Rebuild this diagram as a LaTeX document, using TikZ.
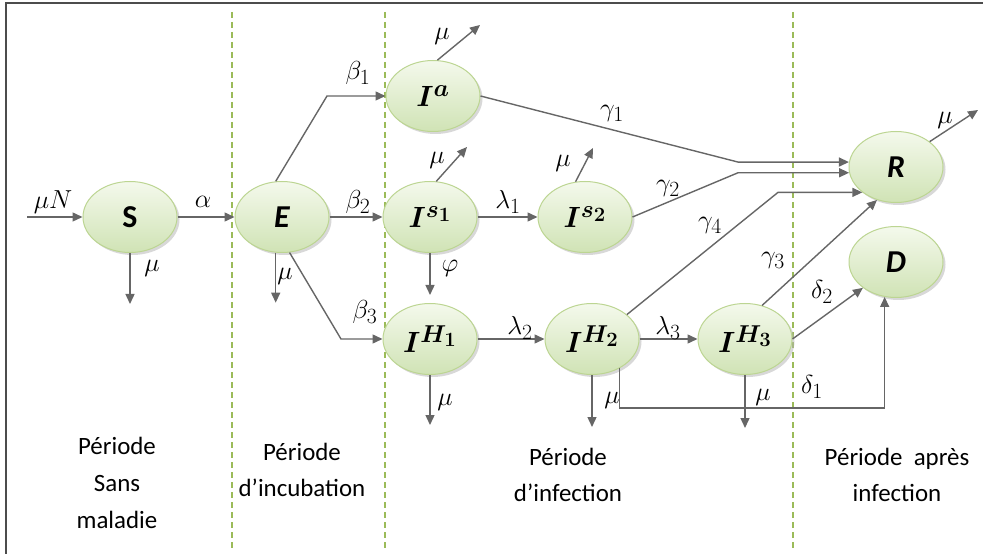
\documentclass[tikz,border=0pt]{standalone}
\usepackage{amsmath}
\usepackage{graphicx}
\usepackage{fontspec}
\setmainfont{Carlito}
\usetikzlibrary{arrows.meta,shadows,shapes.geometric,calc}
\definecolor{arr}{HTML}{666666}
\definecolor{grn}{HTML}{9BBB59}
\definecolor{eb}{HTML}{BCD592}
\definecolor{etop}{HTML}{F4F9EC}
\definecolor{ebot}{HTML}{D0E3B5}
\newcommand{\stlab}[1]{\scalebox{1.18}{$\boldsymbol{#1}$}}
\newcommand{\mlab}[1]{\scalebox{1.05}{$#1$}}
\begin{document}
\begin{tikzpicture}[x=1bp,y=-1bp,
 state/.style={ellipse, minimum width=94bp, minimum height=71bp, draw=eb, line width=1bp,
   top color=etop, bottom color=ebot,
   drop shadow={shadow xshift=2.5bp, shadow yshift=-2.5bp, fill=black!30},
   inner sep=0pt, font=\fontsize{24.88}{25}\selectfont},
 letter/.style={font=\fontsize{32}{32}\selectfont\bfseries},
 flow/.style={draw=arr, line width=1.4bp, -{Triangle[length=10bp,width=9bp]}},
 lab/.style={font=\fontsize{24.88}{25}\selectfont, inner sep=0pt},
 period/.style={font=\fontsize{25}{37}\selectfont, align=center, inner sep=0pt},
 sep/.style={draw=grn, line width=1.3bp, dash pattern=on 6bp off 4bp}
]
\useasboundingbox (0,0) rectangle (983,554);
\clip (0,0) rectangle (983,554);
\draw[line width=1.3bp, draw=black!70] (6,3) rectangle (1000,600);

% period separators
\draw[sep] (232,12) -- (232,548);
\draw[sep] (385,12) -- (385,548);
\draw[sep] (793,12) -- (793,548);

% states
\node[state, letter] (S) at (130,217) {S};
\node[state, letter] (E) at (282,217) {\itshape E};
\node[state] (Ia) at (433,96) {\stlab{I^{a}}};
\node[state] (Is1) at (430,217) {\stlab{I^{s_1}}};
\node[state] (Is2) at (585,217) {\stlab{I^{s_2}}};
\node[state] (IH1) at (430,339) {\stlab{I^{H_1}}};
\node[state] (IH2) at (592,339) {\stlab{I^{H_2}}};
\node[state] (IH3) at (745,339) {\stlab{I^{H_3}}};
\node[state, letter] (R) at (896,167) {\itshape R};
\node[state, letter] (D) at (896,262) {\itshape D};

% helper coordinates
\coordinate (in) at (27,217);
\coordinate (oIa) at (480,25);
\coordinate (oIs1) at (467,147);
\coordinate (oIs2) at (593,148);
\coordinate (oR) at (978,110);
\coordinate (k1) at (738,0);
\coordinate (k2) at (778,0);
\coordinate (k3) at (327,0);
\coordinate (k4) at (341,0);
\coordinate (k5) at (0,408);

% connectors
\draw[flow] (in) -- (S.west);
\draw[flow] (S.east) -- (E.west);
\draw[flow] (S.south) -- ++(0,51);
\draw[flow] (E.260) -- ++(0,50);
\draw[flow] (E.100) -- (Ia.west -| k3) -- (Ia.west);
\draw[flow] (E.east) -- (Is1.west);
\draw[flow] (E.-78) -- (IH1.west -| k4) -- (IH1.west);
\draw[flow] (Ia.83) -- (oIa);
\draw[flow] (Is1.80) -- (oIs1);
\draw[flow, shorten >=8bp] (Is1.south) -- (IH1.north);
\draw[flow] (Is1.east) -- (Is2.west);
\draw[flow] (Is2.105) -- (oIs2);
\draw[flow] (Ia.east) -- (R.174 -| k1) -- (R.174);
\draw[flow] (Is2.east) -- (R.187 -| k1) -- (R.187);
\draw[flow] (IH2.35) -- (R.217 -| k2) -- (R.217);
\draw[flow] (IH3.63) -- (R.240);
\draw[flow] (IH3.east) -- (D.218);
\draw[flow] (IH2.-47) -- (IH2.-47 |- k5) -| (D.252);
\draw[flow] (IH1.east) -- (IH2.west);
\draw[flow] (IH2.east) -- (IH3.west);
\draw[flow] (IH1.south) -- ++(0,50);
\draw[flow] (IH2.south) -- ++(0,52);
\draw[flow] (IH3.south) -- ++(0,53);
\draw[flow] (R.37) -- (oR);

% labels
\node[lab] (lmuN) at (53,202) {\mlab{\mu N}};
\node[lab] (lalpha) at (203,202) {\mlab{\alpha}};
\node[lab] (lmuS) at (152,268) {\mlab{\mu}};
\node[lab] (lmuE) at (285,276) {\mlab{\mu}};
\node[lab] (lb1) at (358,73) {\mlab{\beta_1}};
\node[lab] (lb2) at (358,202) {\mlab{\beta_2}};
\node[lab] (lb3) at (365,312) {\mlab{\beta_3}};
\node[lab] (lmuIa) at (442,36) {\mlab{\mu}};
\node[lab] (lmuIs1) at (437,160) {\mlab{\mu}};
\node[lab] (lphi) at (450,268) {\mlab{\varphi}};
\node[lab] (ll1) at (508,202) {\mlab{\lambda_1}};
\node[lab] (lmuIs2) at (563,163) {\mlab{\mu}};
\node[lab] (lg1) at (612,113) {\mlab{\gamma_1}};
\node[lab] (lg2) at (668,188) {\mlab{\gamma_2}};
\node[lab] (lg4) at (710,225) {\mlab{\gamma_4}};
\node[lab] (lg3) at (773,260) {\mlab{\gamma_3}};
\node[lab] (ld2) at (822,292) {\mlab{\delta_2}};
\node[lab] (ld1) at (812,387) {\mlab{\delta_1}};
\node[lab] (lmuH1) at (445,402) {\mlab{\mu}};
\node[lab] (lmuH2) at (612,400) {\mlab{\mu}};
\node[lab] (lmuH3) at (763,397) {\mlab{\mu}};
\node[lab] (lmuR) at (945,120) {\mlab{\mu}};
\node[lab] (ll2) at (520,328) {\mlab{\lambda_2}};
\node[lab] (ll3) at (668,328) {\mlab{\lambda_3}};

% period texts
\node[period] (p1) at (117,483) {Période\\Sans\\maladie};
\node[period] (p2) at (302,470) {Période\\d’incubation};
\node[period] (p3) at (568,475) {Période\\d’infection};
\node[period] (p4) at (897,475) {Période\ \ après\\infection};
\end{tikzpicture}
\end{document}
